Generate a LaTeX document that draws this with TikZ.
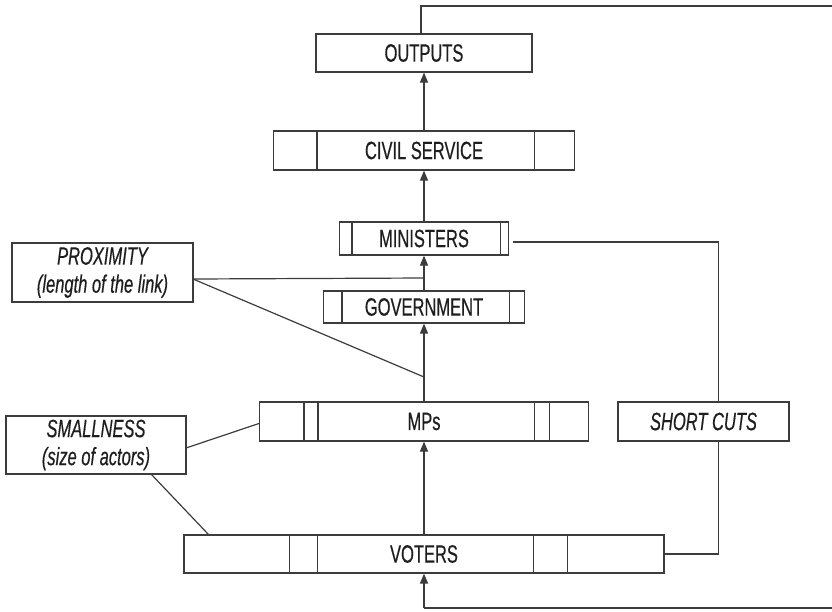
\documentclass[tikz,border=0pt]{standalone}
\usepackage{fontspec}
\setmainfont[FakeStretch=0.66,FakeBold=0.4]{Liberation Sans}
\usetikzlibrary{arrows.meta}
\definecolor{ink}{HTML}{1E1E1E}
\definecolor{linecol}{HTML}{3C3C3C}
\begin{document}
\begin{tikzpicture}[x=1pt,y=-1pt,
  every node/.style={text=ink},
  box/.style={draw=linecol, line width=1.2pt, inner sep=0pt, align=center,
    font=\fontsize{25}{28}\selectfont, fill=white},
  note/.style={box, font=\fontsize{25}{28}\selectfont\itshape},
  conn/.style={draw=linecol, line width=1.2pt},
  arr/.style={conn, -{Triangle[length=10pt,width=8pt]}}]
\useasboundingbox (0,0) rectangle (832,611);

% actor boxes
\node[box, minimum width=216pt, minimum height=38pt] (out) at (424,53) {OUTPUTS};
\node[box, minimum width=301pt, minimum height=39pt] (civ) at (424,150.5) {CIVIL SERVICE};
\node[box, minimum width=169pt, minimum height=33pt] (min) at (424,238.5) {MINISTERS};
\node[box, minimum width=201pt, minimum height=32pt] (gov) at (424,307) {GOVERNMENT};
\node[box, minimum width=329pt, minimum height=39pt] (mps) at (424,421.5) {MPs};
\node[box, minimum width=480pt, minimum height=38pt] (vot) at (424,554) {VOTERS};

% annotation boxes
\node[note, minimum width=181pt, minimum height=59pt] (prox) at (102.5,272.5) {PROXIMITY\\(length of the link)};
\node[note, minimum width=180pt, minimum height=58pt] (small) at (96,445) {SMALLNESS\\(size of actors)};
\node[note, minimum width=171pt, minimum height=39pt] (sc) at (703.5,421.5) {SHORT CUTS};

% compartment dividers
\foreach \n/\a/\b in {civ/44/41, min/13/9, gov/19/16}{
  \draw[conn] ([xshift=\a pt]\n.north west) -- ([xshift=\a pt]\n.south west);
  \draw[conn] ([xshift=-\b pt]\n.north east) -- ([xshift=-\b pt]\n.south east);
}
\foreach \n/\a/\b/\c/\d in {mps/45/59/55/40, vot/106/134/131/97}{
  \draw[conn] ([xshift=\a pt]\n.north west) -- ([xshift=\a pt]\n.south west);
  \draw[conn] ([xshift=\b pt]\n.north west) -- ([xshift=\b pt]\n.south west);
  \draw[conn] ([xshift=-\c pt]\n.north east) -- ([xshift=-\c pt]\n.south east);
  \draw[conn] ([xshift=-\d pt]\n.north east) -- ([xshift=-\d pt]\n.south east);
}

% upward chain
\draw[arr] (civ.north) -- (out.south);
\draw[arr] (min.north) -- (civ.south);
\draw[arr] (gov.north) -- (min.south);
\draw[arr] (mps.north) -- (gov.south);
\draw[arr] (vot.north) -- (mps.south);

% feedback loop from outputs back to voters
\coordinate (fbA) at (421,6);
\coordinate (fbB) at (845,6);
\coordinate (fbC) at (845,608);
\draw[conn] ([xshift=-3pt]out.north) -- (fbA) -- (fbB) -- (fbC) -- (vot.south |- fbC);
\draw[arr] (vot.south |- fbC) -- (vot.south);

% short cuts between ministers and voters
\coordinate (minx) at (513,242);
\coordinate (scx) at (718.5,0);
\draw[conn] (minx) -| (scx |- sc.north);
\draw[conn] (scx |- sc.south) |- (vot.east);

% proximity annotation
\coordinate (proxE) at (193,279);
\coordinate (proxH) at (424,278);
\coordinate (proxD) at (424,377);
\draw[conn] (proxE) -- (proxH);
\draw[conn] (proxE) -- (proxD);

% smallness annotation
\coordinate (smE) at (186,448);
\coordinate (smB) at (151,474);
\draw[conn] (smE) -- ([yshift=-2pt]mps.west);
\draw[conn] (smB) -- ([xshift=25pt]vot.north west);
\end{tikzpicture}
\end{document}
